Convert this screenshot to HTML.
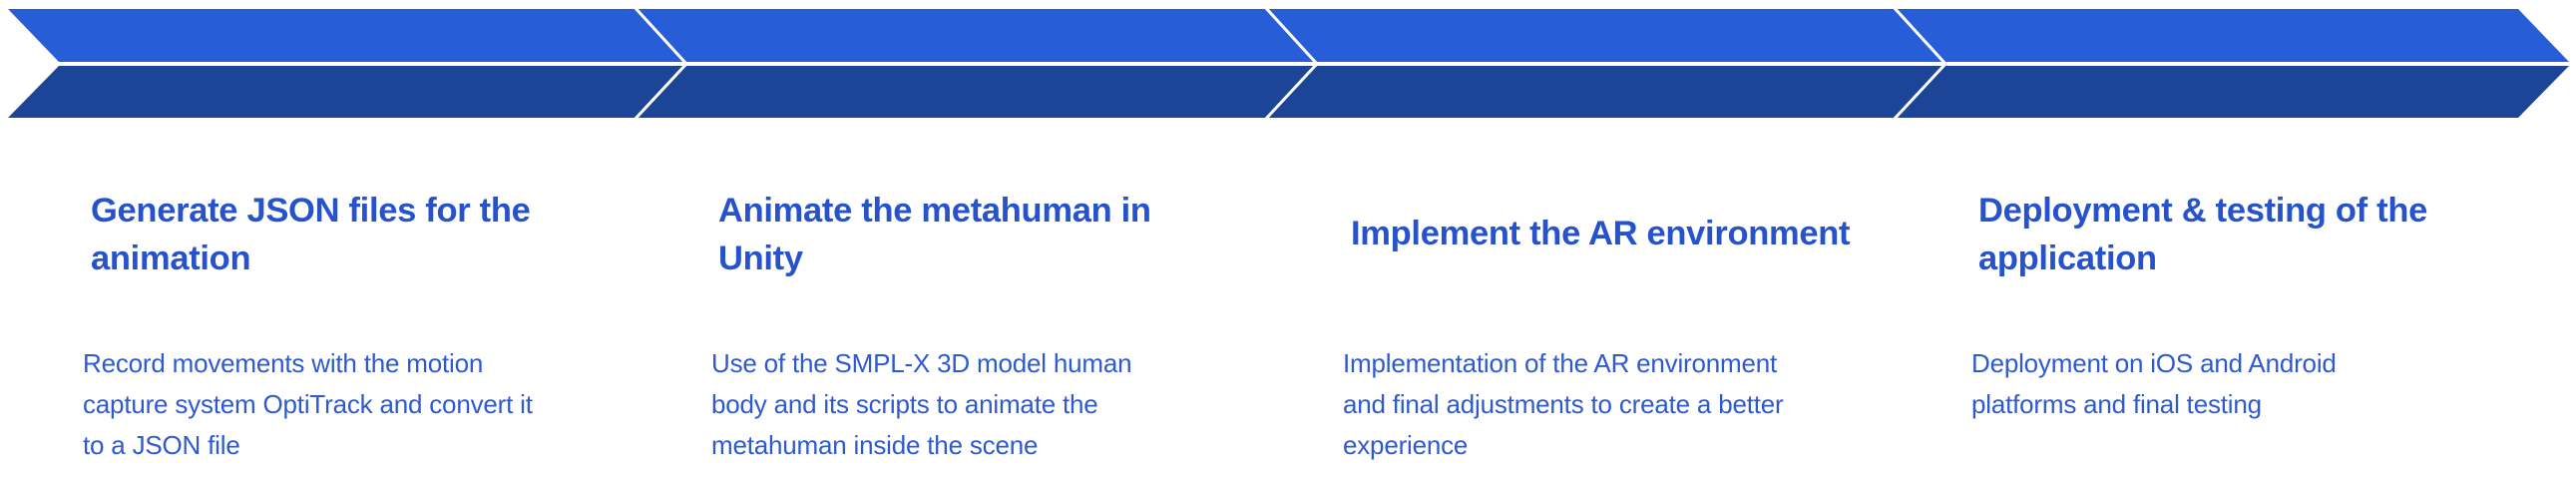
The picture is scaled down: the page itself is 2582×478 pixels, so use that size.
<!DOCTYPE html>
<html><head><meta charset="utf-8"><style>
html,body{margin:0;padding:0;background:#fff;}
svg{display:block}
.t{font-family:"Liberation Sans",Arial,sans-serif;font-weight:bold;font-size:34.5px;fill:#2652CC;letter-spacing:-0.3px}
.d{font-family:"Liberation Sans",Arial,sans-serif;font-size:26px;fill:#2E5AD0;letter-spacing:-0.2px}
</style></head><body>
<svg width="2582" height="478" viewBox="0 0 2582 478" xmlns="http://www.w3.org/2000/svg">
<polygon points="8,9 2524,9 2575,62 59,62" fill="#275DD6"/>
<polygon points="59,66 2575,66 2524,118 8,118" fill="#1C4497"/>
<rect x="0" y="62" width="2582" height="4" fill="#fff"/>
<g stroke="#fff" stroke-width="3" fill="none">
<polyline points="635,6 688,64 635,121"/>
<polyline points="1267,6 1320,64 1267,121"/>
<polyline points="1897,6 1950,64 1897,121"/>
</g>
<text class="t" x="91" y="222">Generate JSON files for the</text>
<text class="t" x="91" y="270">animation</text>
<text class="t" x="720" y="222">Animate the metahuman in</text>
<text class="t" x="720" y="270">Unity</text>
<text class="t" x="1354" y="245">Implement the AR environment</text>
<text class="t" x="1983" y="222">Deployment &amp; testing of the</text>
<text class="t" x="1983" y="270">application</text>
<text class="d" x="83" y="373">Record movements with the motion</text>
<text class="d" x="83" y="414">capture system OptiTrack and convert it</text>
<text class="d" x="83" y="455">to a JSON file</text>
<text class="d" x="713" y="373">Use of the SMPL-X  3D model human</text>
<text class="d" x="713" y="414">body and its scripts to animate the</text>
<text class="d" x="713" y="455">metahuman inside the scene</text>
<text class="d" x="1346" y="373">Implementation of the AR environment</text>
<text class="d" x="1346" y="414">and final adjustments to create a better</text>
<text class="d" x="1346" y="455">experience</text>
<text class="d" x="1976" y="373">Deployment on iOS and Android</text>
<text class="d" x="1976" y="414">platforms and final testing</text>
</svg>
</body></html>
